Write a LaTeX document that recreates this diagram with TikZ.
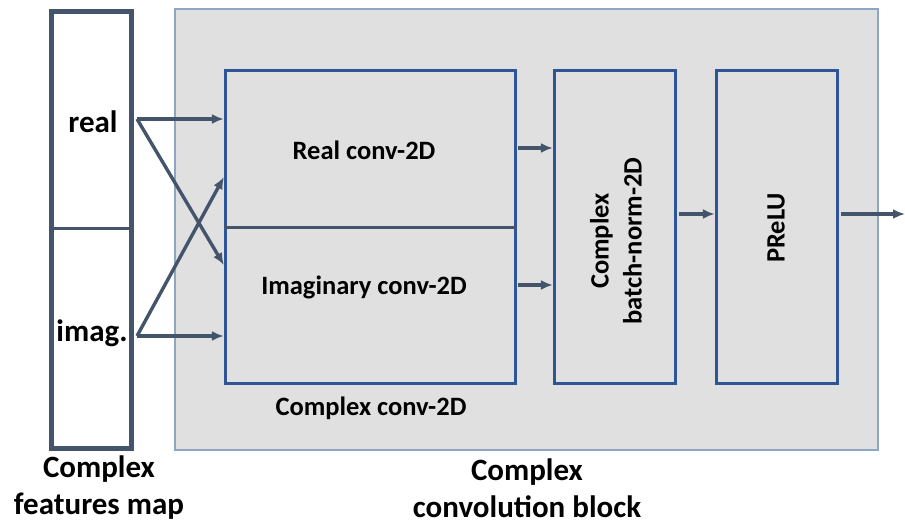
\documentclass[tikz,border=0pt]{standalone}
\usepackage{fontspec}
\setmainfont{Carlito}
\usetikzlibrary{arrows.meta,calc,positioning}

\definecolor{slate}{HTML}{44546A}
\definecolor{blockfill}{HTML}{E0E0E0}
\definecolor{blockedge}{HTML}{8EA5C6}
\definecolor{convblue}{HTML}{2F5597}

\begin{document}
\begin{tikzpicture}[x=1pt,y=-1pt,>={Latex[length=12pt,width=10pt]},
  fmapbox/.style={draw=slate,line width=5pt,fill=white,minimum width=80pt,minimum height=437pt,inner sep=0pt},
  opbox/.style={draw=convblue,line width=3.2pt,fill=blockfill,minimum height=313pt,inner sep=0pt},
  arr/.style={->,draw=slate,line width=3.4pt},
  lbl/.style={font=\bfseries\fontsize{26.5}{33}\selectfont,inner sep=0pt,align=center},
  biglbl/.style={font=\bfseries\fontsize{31}{37}\selectfont,inner sep=0pt,align=center}]
  \useasboundingbox (0,0) rectangle (905,525);

  % Convolution block background
  \node[draw=blockedge,line width=1.4pt,fill=blockfill,minimum width=703pt,minimum height=441pt,inner sep=0pt] (block) at (526.5,229.5) {};

  % Feature map
  \node[fmapbox] (fmap) at (91.5,230) {};
  \draw[slate,line width=3pt] (fmap.west |- 0,228) -- (fmap.east |- 0,228);
  \node[biglbl] (real) at (93,122) {real};
  \node[biglbl] (imag) at (92,333) {imag.};

  % Complex conv-2D
  \node[opbox,minimum width=290pt] (conv) at (370.5,227) {};
  \draw[slate,line width=3pt] (conv.west) -- (conv.east);
  \node[lbl] (realconv) at (364,150) {Real conv-2D};
  \node[lbl] (imagconv) at (364,287) {Imaginary conv-2D};
  \node[lbl] (convname) at (371,408) {Complex conv-2D};

  % Batch norm and PReLU
  \node[opbox,minimum width=121pt] (bn) at (615,227) {};
  \node[lbl,rotate=90] (bntext) at (616,241) {Complex\\batch-norm-2D};
  \node[opbox,minimum width=121pt] (prelu) at (777,227) {};
  \node[lbl,rotate=90] (prelutext) at (776,228) {PReLU};

  % Inputs
  \coordinate (rout) at (137,119);
  \coordinate (iout) at (137,336);
  \coordinate (out) at (905,214);
  \draw[arr] (rout) -- (conv.west |- rout);
  \draw[arr] (iout) -- (conv.west |- iout);
  \draw[arr] (rout) -- ($(conv.west)+(0,38)$);
  \draw[arr] (iout) -- ($(conv.west)+(0,-50)$);

  % Conv to batch norm
  \draw[arr] ($(conv.east)+(1,-79)$) -- (bn.west |- 0,148);
  \draw[arr] ($(conv.east)+(1,58)$) -- (bn.west |- 0,285);
  \draw[arr] ($(bn.east)+(2,-13)$) -- (prelu.west |- 0,214);
  \draw[arr] ($(prelu.east)+(2,-13)$) -- (out);

  % Captions
  \node[biglbl] (fmapname) at (99,488) {Complex\\features map};
  \node[biglbl] (blockname) at (527,488) {Complex\\convolution block};
\end{tikzpicture}
\end{document}
